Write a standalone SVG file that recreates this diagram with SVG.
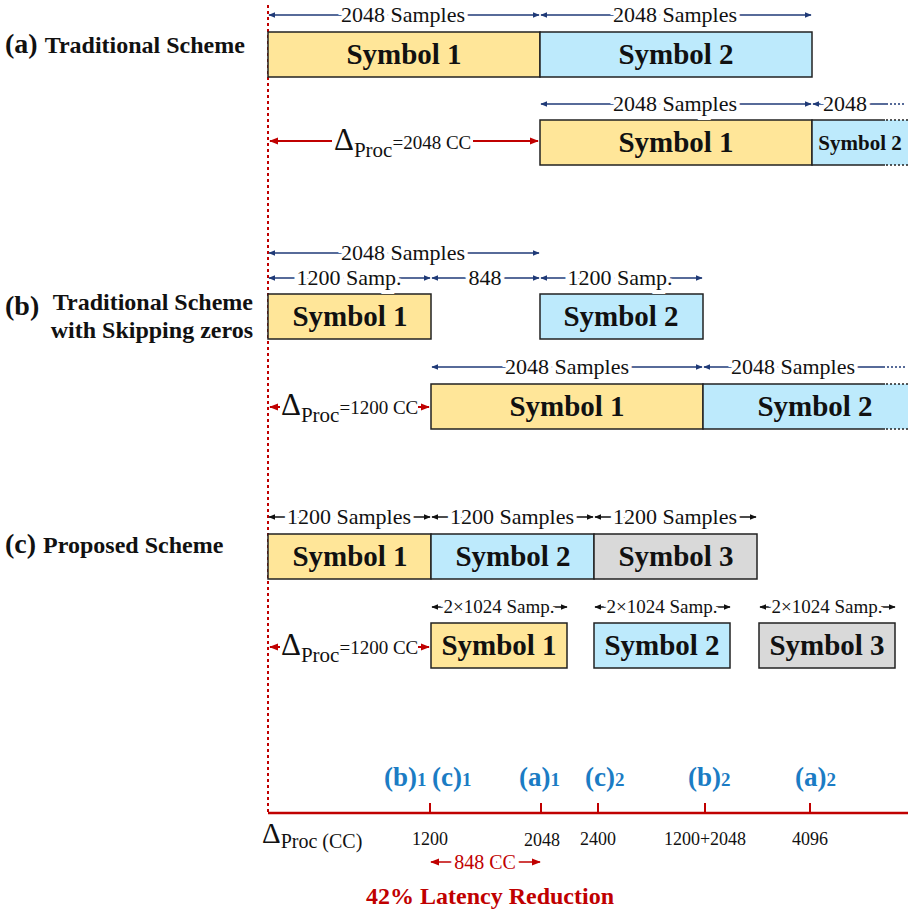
<svg xmlns="http://www.w3.org/2000/svg" width="914" height="909" viewBox="0 0 914 909">
<defs>
<marker id="an" viewBox="0 0 10 10" refX="9" refY="5" markerWidth="7" markerHeight="7" markerUnits="userSpaceOnUse" orient="auto-start-reverse"><path d="M0,1 L10,5 L0,9 z" fill="#1f3a77"/></marker>
<marker id="ar" viewBox="0 0 10 10" refX="9" refY="5" markerWidth="9" markerHeight="9" markerUnits="userSpaceOnUse" orient="auto-start-reverse"><path d="M0,1 L10,5 L0,9 z" fill="#c00000"/></marker>
<marker id="ak" viewBox="0 0 10 10" refX="9" refY="5" markerWidth="7" markerHeight="7" markerUnits="userSpaceOnUse" orient="auto-start-reverse"><path d="M0,1 L10,5 L0,9 z" fill="#111"/></marker>
</defs>
<style>
text{font-family:"Liberation Serif","DejaVu Serif",serif;}
.sym{font-weight:bold;font-size:29px;fill:#111;text-anchor:middle;}
.sym2{font-weight:bold;font-size:21px;fill:#111;text-anchor:middle;}
.box{stroke:#222;stroke-width:1.5;}
.y{fill:#ffe699;}.b{fill:#bdeafc;}.g{fill:#d9d9d9;}
.dim{font-size:22px;fill:#111;text-anchor:middle;paint-order:stroke;stroke:#fff;stroke-width:8px;}
.dimk{font-size:22px;fill:#111;text-anchor:middle;paint-order:stroke;stroke:#fff;stroke-width:8px;}
.dimk2{font-size:19px;fill:#111;text-anchor:middle;paint-order:stroke;stroke:#fff;stroke-width:8px;}
.nl{stroke:#1f3a77;stroke-width:1.5;fill:none;marker-start:url(#an);marker-end:url(#an);}
.kl{stroke:#111;stroke-width:1.3;fill:none;marker-start:url(#ak);marker-end:url(#ak);}
.rs{stroke:#c00000;stroke-width:2;fill:none;marker-start:url(#ar);}
.re{stroke:#c00000;stroke-width:2;fill:none;marker-end:url(#ar);}
.title{font-weight:bold;font-size:24px;fill:#111;}
.lab{font-weight:bold;font-size:28px;fill:#111;}
.dp{fill:#111;}
.blue{font-weight:bold;font-size:27px;fill:#1b7cc4;}
.ax{font-size:18px;fill:#111;text-anchor:middle;}
.dot{stroke:#222;stroke-width:1.5;stroke-dasharray:2 2;}
</style>

<!-- titles -->
<g id="titles">
<text x="5" y="53"><tspan class="lab">(a)</tspan><tspan class="title" dx="7">Traditional Scheme</tspan></text>
<text x="5" y="315" class="lab">(b)</text>
<text x="253" y="310" class="title" text-anchor="end">Traditional Scheme</text>
<text x="253" y="338" class="title" text-anchor="end">with Skipping zeros</text>
<text x="5" y="553"><tspan class="lab">(c)</tspan><tspan class="title" dx="7">Proposed Scheme</tspan></text>
</g>

<!-- reference line -->
<line x1="268" y1="5" x2="268" y2="812" stroke="#c00000" stroke-width="2" stroke-dasharray="3 3"/>

<!-- (a) -->
<g id="a-sym1"><rect class="box y" x="268" y="32" width="272" height="45"/><text class="sym" x="404" y="64">Symbol 1</text></g>
<g id="a-sym2"><rect class="box b" x="540" y="32" width="272" height="45"/><text class="sym" x="676" y="64">Symbol 2</text></g>
<g id="a-sym1b"><rect class="box y" x="540" y="120" width="272" height="45"/><text class="sym" x="676" y="152">Symbol 1</text></g>
<g id="a-sym2b">
<rect class="b" x="812" y="120" width="96" height="45"/>
<path d="M885,120 H812 V165 H885" fill="none" stroke="#222" stroke-width="1.5"/>
<line class="dot" x1="886" y1="120" x2="908" y2="120"/><line class="dot" x1="886" y1="165" x2="908" y2="165"/>
<text class="sym2" x="860" y="150">Symbol 2</text></g>

<!-- (b) -->
<g id="b-sym1"><rect class="box y" x="268" y="294" width="163" height="45"/><text class="sym" x="350" y="326">Symbol 1</text></g>
<g id="b-sym2"><rect class="box b" x="540" y="294" width="163" height="45"/><text class="sym" x="621" y="326">Symbol 2</text></g>
<g id="b-sym1b"><rect class="box y" x="431" y="384" width="272" height="45"/><text class="sym" x="567" y="416">Symbol 1</text></g>
<g id="b-sym2b">
<rect class="b" x="703" y="384" width="205" height="45"/>
<path d="M885,384 H703 V429 H885" fill="none" stroke="#222" stroke-width="1.5"/>
<line class="dot" x1="886" y1="384" x2="908" y2="384"/><line class="dot" x1="886" y1="429" x2="908" y2="429"/>
<text class="sym" x="815" y="416">Symbol 2</text></g>

<!-- (c) -->
<g id="c-sym1"><rect class="box y" x="268" y="534" width="163" height="45"/><text class="sym" x="350" y="566">Symbol 1</text></g>
<g id="c-sym2"><rect class="box b" x="431" y="534" width="163" height="45"/><text class="sym" x="513" y="566">Symbol 2</text></g>
<g id="c-sym3"><rect class="box g" x="594" y="534" width="163" height="45"/><text class="sym" x="676" y="566">Symbol 3</text></g>
<g id="c-sym1b"><rect class="box y" x="431" y="623" width="136" height="45"/><text class="sym" x="499" y="655">Symbol 1</text></g>
<g id="c-sym2b"><rect class="box b" x="594" y="623" width="136" height="45"/><text class="sym" x="662" y="655">Symbol 2</text></g>
<g id="c-sym3b"><rect class="box g" x="759" y="623" width="136" height="45"/><text class="sym" x="827" y="655">Symbol 3</text></g>

<g id="connectors">
<!-- (a) dims -->
<line class="nl" x1="269" y1="15" x2="539" y2="15"/><text class="dim" x="403" y="22">2048 Samples</text>
<line class="nl" x1="541" y1="15" x2="811" y2="15"/><text class="dim" x="675" y="22">2048 Samples</text>
<line class="nl" x1="541" y1="104" x2="811" y2="104"/><text class="dim" x="675" y="111">2048 Samples</text>
<line stroke="#1f3a77" stroke-width="1.5" x1="813" y1="104" x2="888" y2="104" marker-start="url(#an)"/>
<line stroke="#1f3a77" stroke-width="1.5" stroke-dasharray="2 2" x1="890" y1="104" x2="905" y2="104"/>
<text class="dim" x="845" y="111">2048</text>
<line class="rs" x1="270" y1="141" x2="332" y2="141"/>
<line class="re" x1="473" y1="141" x2="538" y2="141"/>
<text x="334" y="150" class="dp"><tspan font-size="31">Δ</tspan><tspan font-size="21" dy="7">Proc</tspan><tspan font-size="19" dy="-8">=2048 CC</tspan></text>

<!-- (b) dims -->
<line class="nl" x1="269" y1="253" x2="539" y2="253"/><text class="dim" x="403" y="260">2048 Samples</text>
<line class="nl" x1="269" y1="278" x2="430" y2="278"/><text class="dim" x="349" y="285">1200 Samp.</text>
<line class="nl" x1="432" y1="278" x2="539" y2="278"/><text class="dim" x="485" y="285">848</text>
<line class="nl" x1="541" y1="278" x2="702" y2="278"/><text class="dim" x="620" y="285">1200 Samp.</text>
<line class="nl" x1="432" y1="367" x2="702" y2="367"/><text class="dim" x="567" y="374">2048 Samples</text>
<line stroke="#1f3a77" stroke-width="1.5" x1="704" y1="367" x2="885" y2="367" marker-start="url(#an)"/>
<line stroke="#1f3a77" stroke-width="1.5" stroke-dasharray="2 2" x1="887" y1="367" x2="905" y2="367"/>
<text class="dim" x="793" y="374">2048 Samples</text>
<line class="rs" x1="270" y1="407" x2="280" y2="407"/>
<line class="re" x1="418" y1="407" x2="429" y2="407"/>
<text x="281" y="415" class="dp"><tspan font-size="31">Δ</tspan><tspan font-size="21" dy="7">Proc</tspan><tspan font-size="19" dy="-8">=1200 CC</tspan></text>

<!-- (c) dims -->
<line class="kl" x1="269" y1="517" x2="430" y2="517"/><text class="dimk" x="349" y="524">1200 Samples</text>
<line class="kl" x1="432" y1="517" x2="593" y2="517"/><text class="dimk" x="512" y="524">1200 Samples</text>
<line class="kl" x1="595" y1="517" x2="756" y2="517"/><text class="dimk" x="675" y="524">1200 Samples</text>
<line class="kl" x1="432" y1="607" x2="567" y2="607"/><text class="dimk2" x="499" y="613">2×1024 Samp.</text>
<line class="kl" x1="595" y1="607" x2="730" y2="607"/><text class="dimk2" x="662" y="613">2×1024 Samp.</text>
<line class="kl" x1="760" y1="607" x2="895" y2="607"/><text class="dimk2" x="827" y="613">2×1024 Samp.</text>
<line class="rs" x1="270" y1="647" x2="280" y2="647"/>
<line class="re" x1="418" y1="647" x2="429" y2="647"/>
<text x="281" y="655" class="dp"><tspan font-size="31">Δ</tspan><tspan font-size="21" dy="7">Proc</tspan><tspan font-size="19" dy="-8">=1200 CC</tspan></text>
</g>

<!-- axis -->
<g id="axis">
<line x1="268" y1="813" x2="908" y2="813" stroke="#c00000" stroke-width="2.5"/>
<g stroke="#c00000" stroke-width="2">
<line x1="430" y1="803" x2="430" y2="813"/><line x1="541" y1="803" x2="541" y2="813"/>
<line x1="598" y1="803" x2="598" y2="813"/><line x1="705" y1="803" x2="705" y2="813"/>
<line x1="810" y1="803" x2="810" y2="813"/>
</g>
<text class="blue" x="384" y="786">(b)<tspan font-size="19">1</tspan></text>
<text class="blue" x="432" y="786">(c)<tspan font-size="19">1</tspan></text>
<text class="blue" x="519" y="786">(a)<tspan font-size="19">1</tspan></text>
<text class="blue" x="585" y="786">(c)<tspan font-size="19">2</tspan></text>
<text class="blue" x="688" y="786">(b)<tspan font-size="19">2</tspan></text>
<text class="blue" x="795" y="786">(a)<tspan font-size="19">2</tspan></text>
<text x="262" y="843" fill="#111"><tspan font-size="29">Δ</tspan><tspan font-size="20" dy="5">Proc</tspan><tspan font-size="20"> (CC)</tspan></text>
<text class="ax" x="430" y="845">1200</text>
<text class="ax" x="542" y="846">2048</text>
<text class="ax" x="598" y="845">2400</text>
<text class="ax" x="705" y="845">1200+2048</text>
<text class="ax" x="810" y="845">4096</text>
<line stroke="#c00000" stroke-width="1.5" x1="431" y1="862" x2="540" y2="862" marker-start="url(#ar)" marker-end="url(#ar)"/>
<text x="485" y="869" font-size="20" fill="#c00000" text-anchor="middle" style="paint-order:stroke;stroke:#fff;stroke-width:8px">848 CC</text>
<text x="490" y="904" font-size="24" font-weight="bold" fill="#c00000" text-anchor="middle">42% Latency Reduction</text>
</g>
</svg>
